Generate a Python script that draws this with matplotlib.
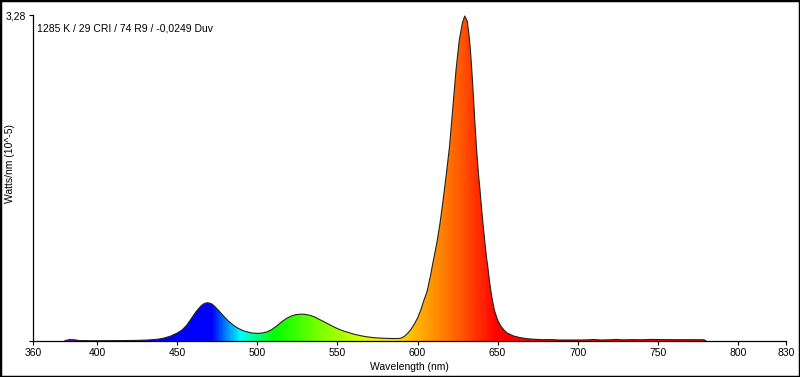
import matplotlib
matplotlib.use("Agg")
import matplotlib.pyplot as plt
import numpy as np
from matplotlib.colors import LinearSegmentedColormap
from matplotlib.patches import Rectangle

plt.rcParams['font.family'] = ['Liberation Sans', 'DejaVu Sans']

# spectrum (nm, Watts/nm x 10^-5)
wavelength = [380, 383, 386, 389, 395, 405, 415, 425, 432, 438, 442, 446, 450, 453,
              456, 459, 462, 465, 467, 469, 471, 473, 476, 479, 482, 485, 488, 491,
              494, 497, 500, 503, 506, 509, 512, 515, 518, 521, 524, 527, 530, 533,
              536, 539, 542, 545, 548, 551, 554, 557, 560, 564, 568, 572, 576, 580,
              584, 588, 590, 592, 594, 596, 598, 600, 602, 604, 606, 608, 610, 612,
              614, 616, 618, 620, 622, 624, 626, 628, 629.5, 631, 632, 633, 634, 635,
              636, 637, 638, 639, 640, 641, 642, 643, 644, 645, 646.5, 648, 650, 652,
              654, 656, 660, 664, 668, 672, 678, 684, 688, 694, 700, 706, 710, 714,
              720, 724, 728, 735, 740, 746, 752, 760, 770, 779, 780]
power = [0.005, 0.014, 0.012, 0.004, 0.003, 0.003, 0.004, 0.006, 0.010, 0.018, 0.030,
         0.050, 0.080, 0.110, 0.160, 0.230, 0.300, 0.355, 0.378, 0.385, 0.378, 0.355,
         0.305, 0.250, 0.200, 0.160, 0.128, 0.105, 0.090, 0.080, 0.077, 0.080, 0.092,
         0.115, 0.150, 0.190, 0.225, 0.250, 0.265, 0.270, 0.268, 0.258, 0.240, 0.215,
         0.190, 0.165, 0.140, 0.118, 0.100, 0.085, 0.070, 0.055, 0.043, 0.035, 0.030,
         0.027, 0.025, 0.025, 0.030, 0.050, 0.080, 0.120, 0.170, 0.230, 0.310, 0.410,
         0.500, 0.650, 0.820, 0.980, 1.180, 1.420, 1.680, 1.960, 2.340, 2.720, 3.020,
         3.200, 3.270, 3.220, 3.100, 2.930, 2.700, 2.430, 2.150, 1.900, 1.690, 1.520,
         1.330, 1.160, 1.000, 0.850, 0.730, 0.590, 0.430, 0.310, 0.210, 0.150, 0.110,
         0.080, 0.050, 0.034, 0.024, 0.018, 0.013, 0.014, 0.010, 0.010, 0.010, 0.011,
         0.015, 0.010, 0.012, 0.016, 0.011, 0.014, 0.012, 0.016, 0.014, 0.013, 0.013,
         0.012, 0.0]

x_ticks = [360, 400, 450, 500, 550, 600, 650, 700, 750, 800, 830]
y_max = 3.28
info = "1285 K / 29 CRI / 74 R9 / -0,0249 Duv"

# colour stops of the fill (nm, rgb)
stops = [(380, (0.5, 0.0, 0.8)), (420, (0.2, 0.0, 1.0)), (440, (0.0, 0.0, 1.0)),
         (471, (0.0, 0.0, 1.0)), (489, (0.0, 1.0, 1.0)), (500, (0.0, 1.0, 0.5)),
         (510, (0.0, 1.0, 0.0)), (540, (0.5, 1.0, 0.0)), (565, (0.85, 1.0, 0.0)),
         (585, (1.0, 0.9, 0.0)), (600, (1.0, 0.7, 0.0)), (620, (1.0, 0.45, 0.0)),
         (640, (1.0, 0.15, 0.0)), (650, (1.0, 0.0, 0.0)), (780, (1.0, 0.0, 0.0))]
lo, hi = stops[0][0], stops[-1][0]
cmap = LinearSegmentedColormap.from_list(
    'spec', [((w - lo) / (hi - lo), c) for w, c in stops])

fig = plt.figure(figsize=(8, 3.77), dpi=100)
ax = fig.add_axes([0.04125, 0.0955, 0.94125, 0.8647])

poly = ax.fill_between(wavelength, power, 0, color='none', lw=0)
grad = np.linspace(0, 1, 800).reshape(1, -1)
im = ax.imshow(grad, cmap=cmap, aspect='auto', extent=[lo, hi, 0, y_max],
               origin='lower', zorder=1)
im.set_clip_path(poly.get_paths()[0], transform=ax.transData)
ax.plot(wavelength, power, color='#222222', lw=0.8, zorder=2)

ax.set_xlim(360, 830)
ax.set_ylim(0, y_max)
ax.set_xticks(x_ticks)
ax.set_xticklabels([str(t) for t in x_ticks], fontsize=7.5)
ax.set_yticks([0, y_max])
ax.set_yticklabels(['', '3,28'], fontsize=7.5)
ax.tick_params(direction='out', length=3, width=0.8, pad=2)
for s in ['top', 'right']:
    ax.spines[s].set_visible(False)
for s in ['left', 'bottom']:
    ax.spines[s].set_linewidth(0.9)

ax.set_xlabel('Wavelength (nm)', fontsize=7.5, labelpad=3)
ax.set_ylabel('Watts/nm (10^-5)', fontsize=7.5)
ax.yaxis.set_label_coords(-0.0245, 0.543)
ax.text(0.005, 0.975, info, transform=ax.transAxes, fontsize=7.5,
        ha='left', va='top')

fig.patches.append(Rectangle((0, 0), 1, 1, transform=fig.transFigure,
                             fill=False, ec='black', lw=2.5))
fig.savefig('out.png', dpi=100)
